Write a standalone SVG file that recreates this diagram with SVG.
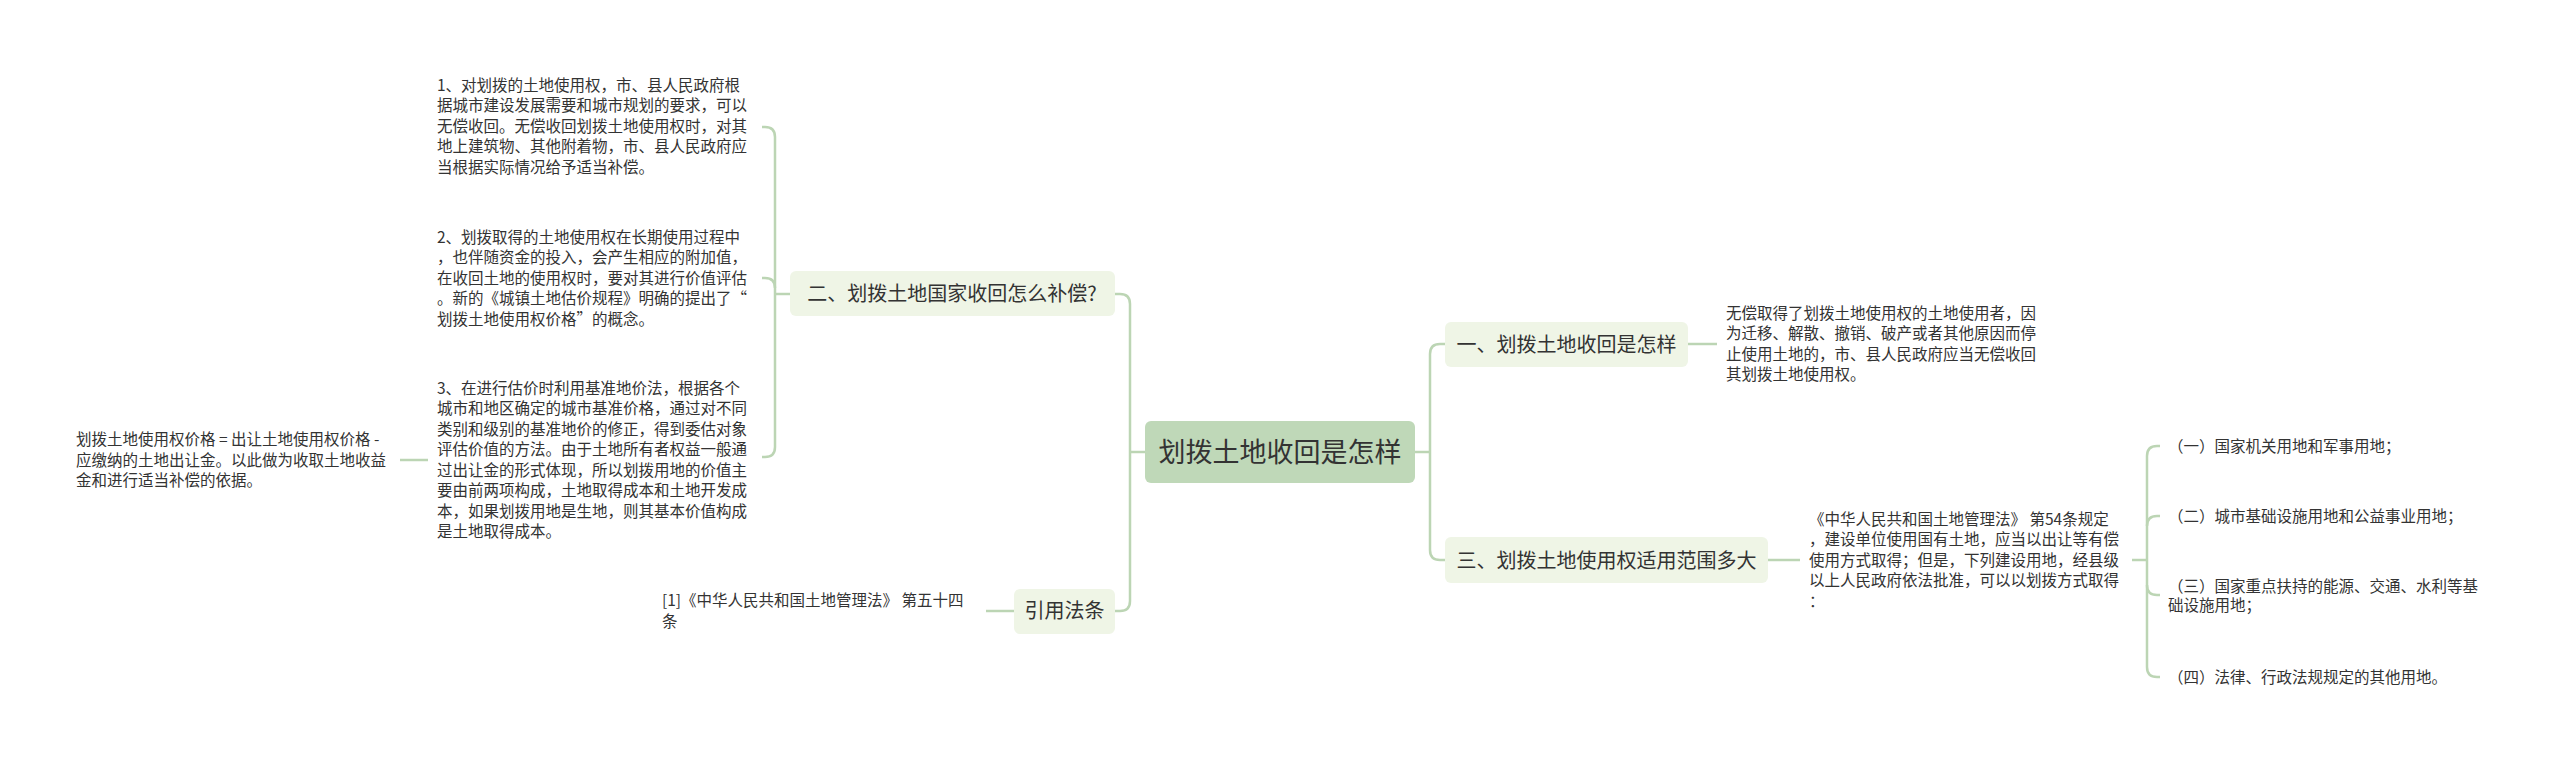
<svg xmlns="http://www.w3.org/2000/svg" width="2560" height="761" viewBox="0 0 2560 761">
<style>
text{font-family:"Noto Sans CJK SC","Liberation Sans",sans-serif;fill:#333}
.t{font-size:15.5px}
.n{font-size:20px;text-anchor:middle}
.c{font-size:27px;text-anchor:middle}
.box{fill:#eff5e6}
.root{fill:#bfd8b8}
.ln{fill:none;stroke:#bcd5b4;stroke-width:2.5}
</style>
<rect width="2560" height="761" fill="#fff"/>
<g id="connectors">
<path class="ln" d="M1145 452H1130"/>
<path class="ln" d="M1115 294H1120Q1130 294 1130 304V601Q1130 611 1120 611H1115"/>
<path class="ln" d="M1415 452H1430"/>
<path class="ln" d="M1445 344H1440Q1430 344 1430 354V550Q1430 560 1440 560H1445"/>
<path class="ln" d="M790 294H775"/>
<path class="ln" d="M762 127H765Q775 127 775 137V447Q775 457 765 457H762"/>
<path class="ln" d="M762 278H765Q775 278 775 288"/>
<path class="ln" d="M428 460H400"/>
<path class="ln" d="M1014 611H986"/>
<path class="ln" d="M1688 344H1717"/>
<path class="ln" d="M1768 560H1800"/>
<path class="ln" d="M2132 560H2147"/>
<path class="ln" d="M2160 446H2157Q2147 446 2147 456V667Q2147 677 2157 677H2160"/>
<path class="ln" d="M2160 516H2157Q2147 516 2147 526"/>
<path class="ln" d="M2160 595H2157Q2147 595 2147 585"/>
</g>
<g id="root">
<rect class="root" x="1145" y="421" width="270" height="62" rx="6"/>
<text class="c" x="1280" y="461.5">划拨土地收回是怎样</text>
</g>
<g id="n2">
<rect class="box" x="790" y="271" width="325" height="45" rx="6"/>
<text class="n" x="952" y="301">二、划拨土地国家收回怎么补偿?</text>
</g>
<g id="nref">
<rect class="box" x="1014" y="589" width="101" height="45" rx="6"/>
<text class="n" x="1064.5" y="618">引用法条</text>
</g>
<g id="n1">
<rect class="box" x="1445" y="322" width="243" height="45" rx="6"/>
<text class="n" x="1566.5" y="351.5">一、划拨土地收回是怎样</text>
</g>
<g id="n3">
<rect class="box" x="1445" y="537" width="323" height="46" rx="6"/>
<text class="n" x="1606.5" y="567.5">三、划拨土地使用权适用范围多大</text>
</g>
<g id="t1">
<text class="t" x="437"><tspan x="437" y="90.5">1、对划拨的土地使用权，市、县人民政府根</tspan><tspan x="437" y="111">据城市建设发展需要和城市规划的要求，可以</tspan><tspan x="437" y="131.5">无偿收回。无偿收回划拨土地使用权时，对其</tspan><tspan x="437" y="152">地上建筑物、其他附着物，市、县人民政府应</tspan><tspan x="437" y="172.5">当根据实际情况给予适当补偿。</tspan></text>
</g>
<g id="t2">
<text class="t"><tspan x="437" y="242.5">2、划拨取得的土地使用权在长期使用过程中</tspan><tspan x="437" y="263">，也伴随资金的投入，会产生相应的附加值，</tspan><tspan x="437" y="283.5">在收回土地的使用权时，要对其进行价值评估</tspan><tspan x="437" y="304">。新的《城镇土地估价规程》明确的提出了“</tspan><tspan x="437" y="324.5">划拨土地使用权价格”的概念。</tspan></text>
</g>
<g id="t3">
<text class="t"><tspan x="437" y="393.8">3、在进行估价时利用基准地价法，根据各个</tspan><tspan x="437" y="414.3">城市和地区确定的城市基准价格，通过对不同</tspan><tspan x="437" y="434.8">类别和级别的基准地价的修正，得到委估对象</tspan><tspan x="437" y="455.3">评估价值的方法。由于土地所有者权益一般通</tspan><tspan x="437" y="475.8">过出让金的形式体现，所以划拨用地的价值主</tspan><tspan x="437" y="496.3">要由前两项构成，土地取得成本和土地开发成</tspan><tspan x="437" y="516.8">本，如果划拨用地是生地，则其基本价值构成</tspan><tspan x="437" y="537.3">是土地取得成本。</tspan></text>
</g>
<g id="t4">
<text class="t"><tspan x="76" y="445">划拨土地使用权价格 = 出让土地使用权价格 -</tspan><tspan x="76" y="465.5">应缴纳的土地出让金。以此做为收取土地收益</tspan><tspan x="76" y="486">金和进行适当补偿的依据。</tspan></text>
</g>
<g id="tref">
<text class="t"><tspan x="662" y="606.3">[1]《中华人民共和国土地管理法》 第五十四</tspan><tspan x="662" y="626.8">条</tspan></text>
</g>
<g id="t5">
<text class="t"><tspan x="1726" y="318.8">无偿取得了划拨土地使用权的土地使用者，因</tspan><tspan x="1726" y="339.3">为迁移、解散、撤销、破产或者其他原因而停</tspan><tspan x="1726" y="359.8">止使用土地的，市、县人民政府应当无偿收回</tspan><tspan x="1726" y="380.3">其划拨土地使用权。</tspan></text>
</g>
<g id="t6">
<text class="t"><tspan x="1809" y="524.5">《中华人民共和国土地管理法》 第54条规定</tspan><tspan x="1809" y="545">，建设单位使用国有土地，应当以出让等有偿</tspan><tspan x="1809" y="565.5">使用方式取得；但是，下列建设用地，经县级</tspan><tspan x="1809" y="586">以上人民政府依法批准，可以以划拨方式取得</tspan><tspan x="1809" y="606.5">：</tspan></text>
</g>
<g id="i1"><text class="t" x="2168" y="451.5">（一）国家机关用地和军事用地；</text></g>
<g id="i2"><text class="t" x="2168" y="522">（二）城市基础设施用地和公益事业用地；</text></g>
<g id="i3"><text class="t"><tspan x="2168" y="592">（三）国家重点扶持的能源、交通、水利等基</tspan><tspan x="2168" y="611">础设施用地；</tspan></text></g>
<g id="i4"><text class="t" x="2168" y="682.5">（四）法律、行政法规规定的其他用地。</text></g>
</svg>
